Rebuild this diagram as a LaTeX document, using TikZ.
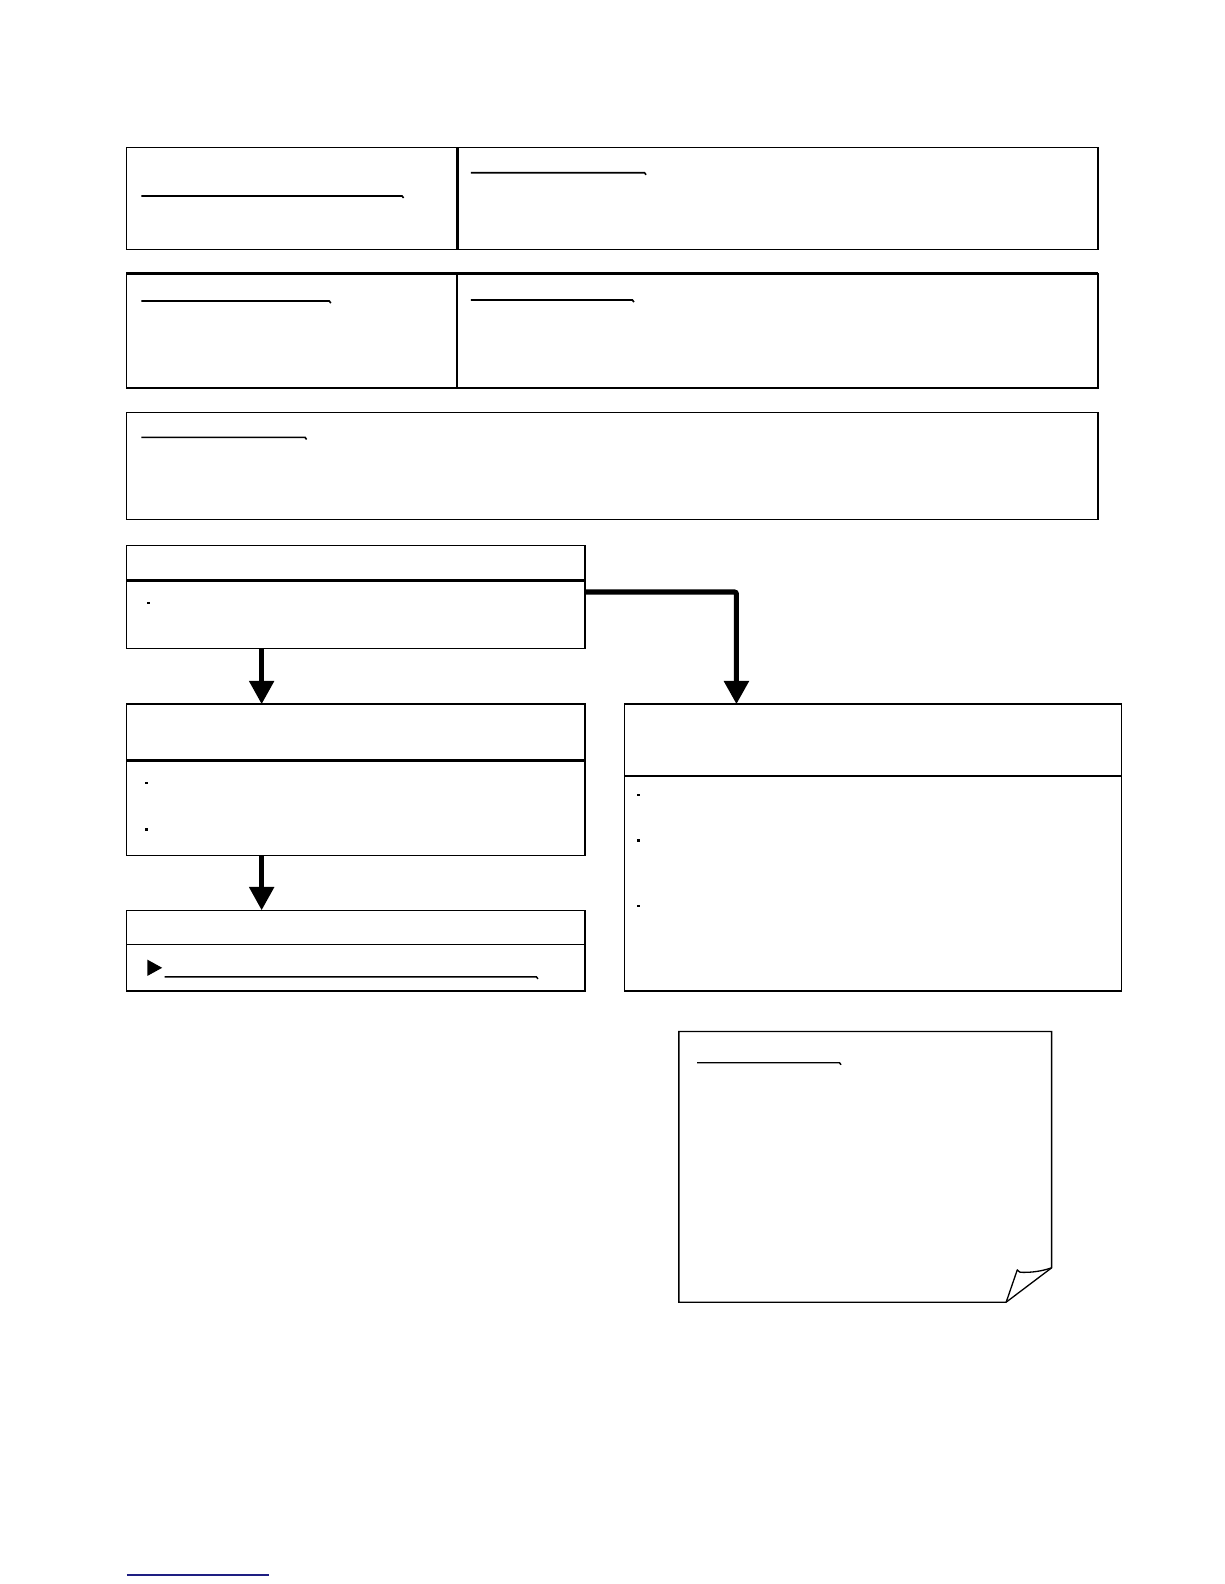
\documentclass[tikz,border=0pt]{standalone}
\usetikzlibrary{arrows.meta}
\definecolor{navyline}{RGB}{30,30,130}
\begin{document}
\begin{tikzpicture}[x=1pt,y=-1pt,
  box/.style={draw=black,line width=1.3pt,rectangle,anchor=north west,inner sep=0pt,outer sep=0pt},
  divline/.style={line width=2.4pt},
  uline/.style={line width=1.6pt},
  dotmark/.style={fill=black,draw=none,minimum size=2.6pt,inner sep=0pt,rectangle},
  conn/.style={line width=4.6pt,-{Triangle[width=24pt,length=23pt]}},
  connb/.style={line width=5pt,rounded corners=2pt,-{Triangle[width=24pt,length=23pt]}}]
\useasboundingbox (0,0) rectangle (1212,1568);
\fill[white] (0,0) rectangle (1212,1568);

% row 1
\node[box,minimum width=328pt,minimum height=101pt] (b1l) at (125,146) {};
\node[box,minimum width=634pt,minimum height=101pt] (b1r) at (453,146) {};
\draw[divline] (b1l.north east) -- (b1l.south east);
\draw[uline] (140,194) -- (398,194) -- (399.5,196);
\draw[uline] (466,171) -- (638,171) -- (639.5,173);

% row 2
\node[box,minimum width=327pt,minimum height=113pt] (b2l) at (125,271) {};
\node[box,minimum width=635pt,minimum height=113pt] (b2r) at (452,271) {};
\draw[line width=2.8pt] (b2l.north west) -- (b2r.north east);
\draw[divline,line width=2pt] (b2l.north east) -- (b2l.south east);
\draw[uline] (140,298) -- (326,298) -- (327.5,300);
\draw[uline] (466,297) -- (626,297) -- (627.5,299);

% row 3
\node[box,minimum width=962pt,minimum height=106pt] (b3) at (125,408) {};
\draw[uline] (140,433) -- (302,433) -- (303.5,435);

% box 4
\node[box,minimum width=454pt,minimum height=35pt] (b4h) at (125,540) {};
\node[box,minimum width=454pt,minimum height=67pt] (b4b) at (125,575) {};
\draw[line width=2.8pt] (b4b.north west) -- (b4b.north east);
\node[dotmark,minimum size=2pt] (d4) at (147,597) {};

% box 5
\node[box,minimum width=454pt,minimum height=56pt] (b5h) at (125,697) {};
\node[box,minimum width=454pt,minimum height=94pt] (b5b) at (125,753) {};
\draw[divline] (b5b.north west) -- (b5b.north east);
\node[dotmark] (d5a) at (145,775) {};
\node[dotmark] (d5b) at (145,821) {};

% box 7
\node[box,minimum width=454pt,minimum height=34pt] (b7h) at (125,901) {};
\node[box,minimum width=454pt,minimum height=46pt] (b7b) at (125,935) {};
\fill[black] (146,950) -- (160.5,958) -- (146,966) -- cycle;
\draw[uline,line width=1.4pt] (163,967) -- (531,967) -- (532.5,969);

% box 6
\node[box,minimum width=492pt,minimum height=71pt] (b6h) at (618,697) {};
\node[box,minimum width=492pt,minimum height=213pt] (b6b) at (618,768) {};
\draw[divline,line width=2.6pt] (b6b.north west) -- (b6b.north east);
\node[dotmark] (d6a) at (632,787) {};
\node[dotmark] (d6b) at (632,832) {};
\node[dotmark] (d6c) at (632,897) {};

% connectors
\draw[conn] (259,0 |- b4b.south) -- (259,0 |- b5h.north);
\draw[conn] (259,0 |- b5b.south) -- (259,0 |- b7h.north);
\draw[connb] (b4b.east |- 0,586) -- (729,586) -- (729,0 |- b6h.north);

% note with folded corner
\draw[line width=1.3pt,line join=miter] (672,1021) coordinate (n1) -- (1041,1021) -- (1041,1255) coordinate (nf) -- (996,1289) coordinate (nt) -- (672,1289) -- cycle;
\draw[line width=1.3pt,line join=round] (nt) -- (1007,1257) .. controls (1009,1259.5) .. (1014,1259.5) .. controls (1026,1259.5) and (1035,1257) .. (nf);
\draw[uline,line width=1.4pt] (690,1052) -- (831,1052) -- (832.5,1054);

% bottom line
\draw[navyline,line width=1.5pt] (125.5,1559) -- (266,1559);
\end{tikzpicture}
\end{document}
